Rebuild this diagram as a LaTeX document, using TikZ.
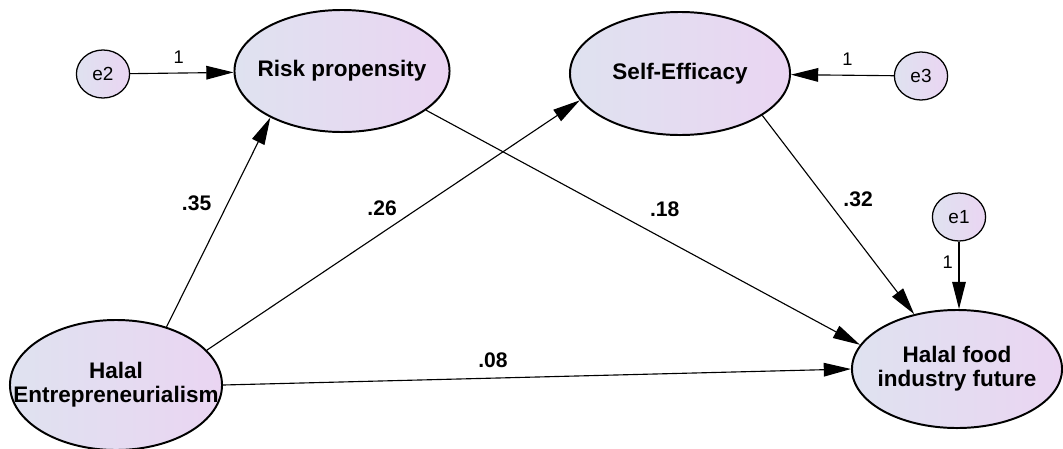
\documentclass[tikz,border=0pt]{standalone}
\usepackage{fontspec}
\setmainfont{Liberation Sans}[Ligatures=NoCommon]
\usepackage{tikz}
\usetikzlibrary{shapes.geometric, arrows.meta}
\definecolor{latleft}{RGB}{223,226,240}
\definecolor{latright}{RGB}{234,213,242}
\tikzstyle{latent} = [ellipse, draw, line width=1.4pt, left color=latleft, right color=latright, inner sep=0pt]
\tikzstyle{lattext} = [align=center, inner sep=0pt, font=\fontsize{16}{17}\selectfont\bfseries]
\tikzstyle{error} = [ellipse, draw, line width=0.9pt, left color=latleft, right color=latright, minimum width=1.33cm, minimum height=1.2cm, inner sep=0pt, font=\fontsize{13.5}{15}\selectfont]
\tikzstyle{arrow} = [line width=0.8pt, -{Triangle[length=0.68cm, width=0.34cm]}]
\tikzstyle{coef} = [font=\fontsize{15}{17}\selectfont\bfseries, inner sep=0pt]
\tikzstyle{onelbl} = [font=\fontsize{13}{15}\selectfont, inner sep=0pt]

\begin{document}
\begin{tikzpicture}[x=0.025cm, y=-0.025cm]
    \useasboundingbox (0,0) rectangle (1063,448);
    \node[latent, minimum width=5.375cm, minimum height=3.05cm, label={[lattext]center:Risk propensity}] (RP) at (342,71) {};
    \node[latent, minimum width=5.5cm, minimum height=3.075cm, label={[lattext]center:Self-Efficacy}] (SE) at (680,73.5) {};
    \node[latent, minimum width=5.3cm, minimum height=3.25cm, label={[lattext]center:Halal\\Entrepreneurialism}] (HE) at (116,385) {};
    \node[latent, minimum width=5.25cm, minimum height=2.95cm, label={[lattext]center:Halal food\\industry future}] (HF) at (957,369) {};
    \node[error] (e2) at (103,74) {e2};
    \node[error] (e3) at (921,76) {e3};
    \node[error] (e1) at (959,217) {e1};
    \path[arrow] (e2) edge node[onelbl, pos=.47, yshift=.4cm]{1} (RP)
    (e3) edge node[onelbl, pos=.45, yshift=.4cm]{1} (SE)
    (e1) edge node[onelbl, pos=.31, xshift=-.28cm]{1} (e1 |- HF.north)
    (HE.49) edge node[coef, pos=.59, xshift=-.78cm]{.35} (RP.213)
    (HE.21) edge node[coef, pos=.47, yshift=.62cm]{.26} (SE.195)
    (RP.335) edge node[coef, pos=.55, yshift=.74cm]{.18} (HF.166)
    (SE.333) edge node[coef, pos=.42, xshift=.8cm]{.32} (HF.128)
    (HE.0) edge node[coef, pos=.43, yshift=.45cm]{.08} (HF.180);
\end{tikzpicture}
\end{document}
